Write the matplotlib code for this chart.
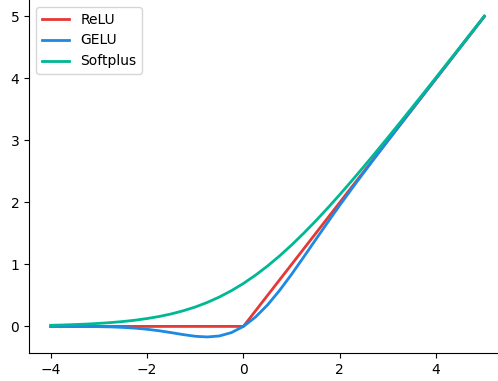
import numpy as np
import matplotlib.pyplot as plt

# sample grid, -4 .. 5 in steps of 0.25
x = np.linspace(-4, 5, 37)

relu_x = [-4, 0, 5]
relu_y = [0, 0, 5]

gelu = [-0.000, -0.000, -0.001, -0.002, -0.004, -0.008, -0.016, -0.028,
        -0.046, -0.070, -0.100, -0.132, -0.159, -0.170, -0.154, -0.100,
        0.000, 0.150, 0.346, 0.580, 0.841, 1.118, 1.400, 1.680,
        1.955, 2.222, 2.484, 2.742, 2.996, 3.248, 3.499, 3.750,
        4.000, 4.250, 4.500, 4.750, 5.000]

softplus = [0.018, 0.023, 0.030, 0.038, 0.049, 0.062, 0.079, 0.100,
            0.127, 0.160, 0.201, 0.252, 0.313, 0.387, 0.474, 0.576,
            0.693, 0.826, 0.974, 1.137, 1.313, 1.502, 1.701, 1.910,
            2.127, 2.350, 2.579, 2.812, 3.049, 3.288, 3.530, 3.773,
            4.018, 4.264, 4.511, 4.759, 5.007]

fig = plt.figure(figsize=(4.98, 3.81), dpi=100)
ax = fig.add_axes([29 / 498, 28 / 381, 477 / 498, 353 / 381])

ax.plot(relu_x, relu_y, color="#e53935", lw=2, label="ReLU")
ax.plot(x, gelu, color="#1e88e5", lw=2, label="GELU")
ax.plot(x, softplus, color="#00b894", lw=2, label="Softplus")

ax.spines["top"].set_visible(False)
ax.spines["right"].set_visible(False)
ax.legend(loc="upper left")

fig.savefig("out.png", dpi=100)
